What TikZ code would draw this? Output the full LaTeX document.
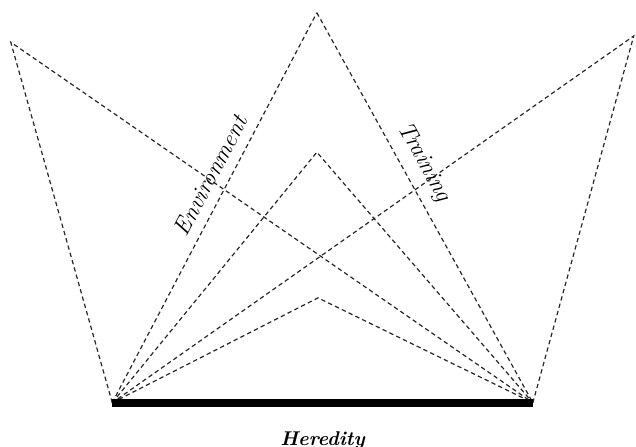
\documentclass[tikz,border=0pt]{standalone}
\usepackage{fontspec}
\usepackage{tikz}
\usetikzlibrary{positioning}

\begin{document}
\begin{tikzpicture}[
		% Style des lignes pointillées
		rayline/.style={
			draw=black!85,
			line width=0.6pt,
			dash pattern=on 2.2pt off 1.6pt
		},
		% Style de la barre de base
		baseline/.style={
			draw=black,
			line width=4pt
		},
		% Style des étiquettes inclinées
		slopelabel/.style={
			sloped,
			above,
			font=\large\itshape,
			inner sep=5pt
		},
		% Style de l'étiquette du bas
		herlabel/.style={
			font=\normalsize\bfseries\itshape
		}
		]
		\useasboundingbox (0,0) rectangle (11.22,7.885);
		
		% --- SOMMETS ---
		\coordinate (bl) at (1.98,0.78);
		\coordinate (br) at (9.40,0.78);
		\coordinate (tl) at (0.19,7.14);
		\coordinate (tr) at (11.18,7.25);
		\coordinate (tc) at (5.59,7.66);
		\coordinate (mc) at (5.59,5.20);
		\coordinate (lc) at (5.61,2.63);
		
		% --- LIGNES EXTÉRIEURES ---
		\draw[rayline] (bl) -- (tl) -- (br);
		\draw[rayline] (br) -- (tr) -- (bl);
		
		% --- PIC CENTRAL ---
		\draw[rayline] (bl) -- node[slopelabel, pos=0.56] (env) {Environment} (tc);
		\draw[rayline] (tc) -- node[slopelabel, pos=0.41] (tra) {Training} (br);
		
		% --- PICS INTÉRIEURS ---
		\draw[rayline] (bl) -- (mc) -- (br);
		\draw[rayline] (bl) -- (lc) -- (br);
		
		% --- BASE ---
		\draw[baseline] (bl) -- (br) node[midway, below=9pt, herlabel] (her) {Heredity};
		
	\end{tikzpicture}
\end{document}
